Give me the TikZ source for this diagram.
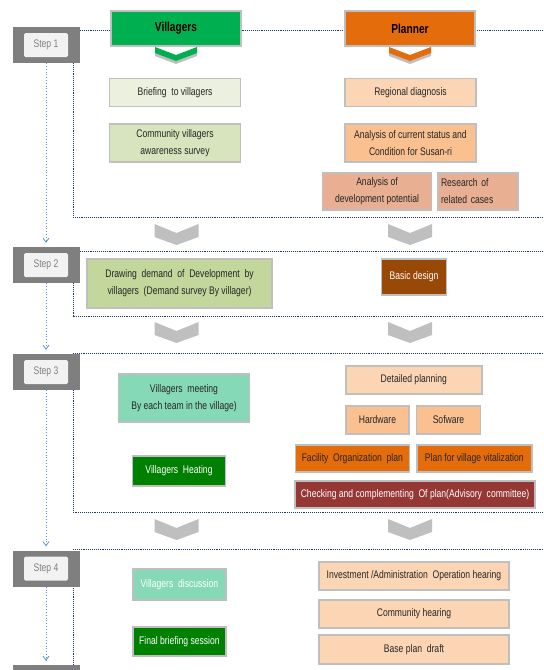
\documentclass[tikz,border=0pt]{standalone}
\usepackage{fontspec}
\setmainfont[FakeStretch=0.78]{Liberation Sans}
\usetikzlibrary{arrows.meta, positioning}

\definecolor{vgreen}{HTML}{00B050}
\definecolor{porange}{HTML}{E46C0A}
\definecolor{briefgreen}{HTML}{EBF1DE}
\definecolor{surveygreen}{HTML}{D7E4BD}
\definecolor{demandgreen}{HTML}{C3D69B}
\definecolor{peachlight}{HTML}{FCD5B5}
\definecolor{peach}{HTML}{FAC090}
\definecolor{salmon}{HTML}{E9AF93}
\definecolor{designbrown}{HTML}{984807}
\definecolor{mint}{HTML}{86D9B7}
\definecolor{darkgreen}{HTML}{008000}
\definecolor{maroon}{HTML}{953735}
\definecolor{framenavy}{HTML}{203864}
\definecolor{flowblue}{HTML}{5B8FD8}
\definecolor{stepgray}{HTML}{7F7F7F}

\tikzstyle{header} = [rectangle, minimum width=130pt, minimum height=35pt, text centered, draw=black!25, line width=1.5pt, font=\fontsize{13}{15}\selectfont\bfseries]
\tikzstyle{task} = [rectangle, text centered, align=center, draw=black!25, line width=1.5pt, inner sep=1pt, text=black!85, font=\fontsize{11}{17}\selectfont]
\tikzstyle{stepbox} = [rectangle, minimum width=67pt, minimum height=36pt, fill=stepgray]
\tikzstyle{steplabel} = [rectangle, rounded corners=1.5pt, minimum width=44pt, minimum height=24pt, fill=black!5, text=black!50, font=\fontsize{11}{13}\selectfont]
\tikzstyle{stepframe} = [densely dotted, draw=framenavy, line width=0.9pt]
\tikzstyle{arrow} = [dotted, draw=flowblue, line width=0.8pt, -{Straight Barb[length=4pt, width=6pt]}, shorten >=4pt]

\tikzset{
    chevron/.pic={
        \path[pic actions] (-22,0) -- (0,9) -- (22,0) -- (22,13) -- (0,21) -- (-22,13) -- cycle;
    },
    headchevron/.pic={
        \fill[black!25] (-21,3) -- (0,11) -- (21,3) -- (21,9) -- (0,17) -- (-21,9) -- cycle;
        \path[pic actions] (-21,0) -- (0,8) -- (21,0) -- (21,6) -- (0,14) -- (-21,6) -- cycle;
    }
}

\begin{document}
\begin{tikzpicture}[x=1pt, y=-1pt]
    \useasboundingbox (0,0) rectangle (544,670);

    % Frames
    \draw[stepframe] (80,30) -- (548,30);
    \draw[stepframe] (73,63) -- (73,217) -- (548,217);
    \draw[stepframe] (80,251) -- (548,251);
    \draw[stepframe] (73,283) -- (73,316) -- (548,316);
    \draw[stepframe] (73,353) -- (548,353);
    \draw[stepframe] (73,390) -- (73,512) -- (548,512);
    \draw[stepframe] (73,549) -- (548,549);
    \draw[stepframe] (73,586) -- (73,670);

    % Steps
    \node (step1) [stepbox] at (46,45) {};
    \node [steplabel] at (step1) {Step 1};
    \node (step2) [stepbox] at (46,265) {};
    \node [steplabel] at (step2) {Step 2};
    \node (step3) [stepbox] at (46,372) {};
    \node [steplabel] at (step3) {Step 3};
    \node (step4) [stepbox] at (46,568.5) {};
    \node [steplabel] at (step4) {Step 4};
    \node (step5) [stepbox] at (46,683) {};

    % Headers
    \node (villagers) [header, fill=vgreen] at (176,28.5) {Villagers};
    \node (planner) [header, fill=porange] at (410,28.5) {Planner};
    \pic[fill=vgreen] at (176,47) {headchevron};
    \pic[fill=porange] at (410,47) {headchevron};

    % Step 1
    \node (briefing) [task, fill=briefgreen, minimum width=131pt, minimum height=28pt] at (175,92.5) {Briefing\ \ to villagers};
    \node (awareness) [task, fill=surveygreen, minimum width=131pt, minimum height=38pt] at (175,143) {Community villagers\\awareness survey};
    \node (diagnosis) [task, fill=peachlight, minimum width=131pt, minimum height=28pt] at (410.5,92.5) {Regional diagnosis};
    \node (status) [task, fill=peach, minimum width=131pt, minimum height=38pt] at (410.5,143) {Analysis of current status and\\Condition for Susan-ri};
    \node (potential) [task, fill=salmon, minimum width=109pt, minimum height=37pt] at (377,191.5) {Analysis of\\development potential};
    \node (cases) [task, fill=salmon, minimum width=80pt, minimum height=37pt, align=left, text width=74pt, right=5pt of potential] {Research of\\related cases};

    % Step 2
    \node (demand) [task, fill=demandgreen, minimum width=185pt, minimum height=49pt] at (179.5,283.5) {Drawing\ \ demand\ \ of\ \ Development\ \ by\\villagers\ \ (Demand survey By villager)};
    \node (design) [task, fill=designbrown, text=white, minimum width=65pt, minimum height=36pt] at (414,277) {Basic design};

    % Step 3
    \node (meeting) [task, fill=mint, minimum width=131pt, minimum height=48pt] at (184,398) {Villagers\ \ meeting\\By each team in the village)};
    \node (heating) [task, fill=darkgreen, text=white, minimum width=93pt, minimum height=30pt] at (179,471) {Villagers\ \ Heating};
    \node (detailed) [task, fill=peachlight, minimum width=136pt, minimum height=28pt] at (413.8,380) {Detailed planning};
    \node (hardware) [task, fill=peach, minimum width=63pt, minimum height=28pt] at (377.5,420) {Hardware};
    \node (software) [task, fill=peach, minimum width=64pt, minimum height=28pt, right=6pt of hardware] {Sofware};
    \node (facility) [task, fill=porange, minimum width=114pt, minimum height=27pt] at (352.3,458.5) {Facility\ \ Organization\ \ plan};
    \node (vitalization) [task, fill=porange, minimum width=115pt, minimum height=27pt, right=6pt of facility] {Plan for village vitalization};
    \node (checking) [task, fill=maroon, text=white, minimum width=240pt, minimum height=27pt] at (415,494.5) {Checking and complementing\ \ Of plan(Advisory\ \ committee)};

    % Step 4
    \node (discussion) [task, fill=mint, text=white, minimum width=93pt, minimum height=31pt] at (179.4,584.5) {Villagers\ \ discussion};
    \node (finalbrief) [task, fill=darkgreen, text=white, minimum width=93pt, minimum height=29pt] at (179.4,641.5) {Final briefing session};
    \node (investment) [task, fill=peachlight, minimum width=190pt, minimum height=28pt] at (414,576) {Investment /Administration\ \ Operation hearing};
    \node (hearing) [task, fill=peachlight, minimum width=190pt, minimum height=28pt] at (414,614) {Community hearing};
    \node (baseplan) [task, fill=peachlight, minimum width=190pt, minimum height=29pt] at (414,649.5) {Base plan\ \ draft};

    % Chevrons between steps
    \pic[fill=black!25] at (176.5,224) {chevron};
    \pic[fill=black!25] at (410,224) {chevron};
    \pic[fill=black!25] at (176.5,322) {chevron};
    \pic[fill=black!25] at (410,322) {chevron};
    \pic[fill=black!25] at (176.5,519) {chevron};
    \pic[fill=black!25] at (410,519) {chevron};

    % Connections
    \draw [arrow] (step1) -- (step2);
    \draw [arrow] (step2) -- (step3);
    \draw [arrow] (step3) -- (step4);
    \draw [arrow] (step4) -- (step5);
\end{tikzpicture}
\end{document}
